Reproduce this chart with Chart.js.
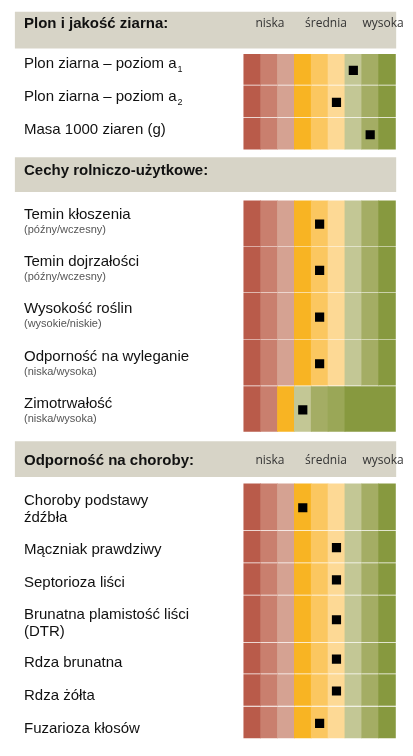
<!DOCTYPE html>
<html><head><meta charset="utf-8">
<script src="https://cdn.jsdelivr.net/npm/chart.js@4"></script>
<style>html,body{margin:0;padding:0;background:#fff}canvas{display:block}</style>
</head><body><canvas id="c" width="413" height="756"></canvas>
<script>
// ---- data ----
const levelLabels = ['niska','średnia','wysoka'];
const sectionTitles = ['Plon i jakość ziarna:','Cechy rolniczo-użytkowe:','Odporność na choroby:'];
const rowLabels = ['Plon ziarna – poziom a','Plon ziarna – poziom a','Masa 1000 ziaren (g)',
  'Temin kłoszenia','Temin dojrzałości','Wysokość roślin','Odporność na wyleganie','Zimotrwałość',
  'Choroby podstawy','Mączniak prawdziwy','Septorioza liści','Brunatna plamistość liści','Rdza brunatna','Rdza żółta','Fuzarioza kłosów'];
const rowSubscripts = ['1','2','','','','','','','','','','','','',''];
const rowSecondLines = ['','','','(późny/wczesny)','(późny/wczesny)','(wysokie/niskie)','(niska/wysoka)','(niska/wysoka)',
  'źdźbła','','','(DTR)','','',''];
const rowScores = [6,5,7, 4,4,4,4,3, 3,5,5,5,5,5,4]; // column index 0..8
const scaleColors = ['#b95b4a','#c97f6e','#d5a292','#f8b423','#fbc760','#fdd995','#c3c795','#a4ad64','#87993f'];
const zimoColors = ['#b95b4a','#c97f6e','#f8b423','#c3c795','#a4ad64','#9aa757','#87993f'];
const zimoWidths = [1,1,1,1,1,1,3];

// ---- layout ----
const PX = 17.4, X0 = 245;
const toU = p => (p - X0) / PX;
const headers = [[6,42],[154,188],[443,478]];
const rowBounds = [[48,80],[80,113],[113,146],
  [197,244],[244,291],[291,339],[339,386],[386,433],
  [485,533],[533,566],[566,599],[599,647],[647,679],[679,712],[712,745]];

const datasets = [];
headers.forEach(h => datasets.push({type:'bar', order:2, data:[{x:[toU(9),toU(402)], y:(h[0]+h[1])/2}],
  backgroundColor:'#d7d4c7', barThickness:h[1]-h[0], grouped:false}));
rowBounds.forEach((b,i) => {
  const zimo = i === 7;
  const widths = zimo ? zimoWidths : scaleColors.map(()=>1);
  const cols = zimo ? zimoColors : scaleColors;
  let s = 0; const data = [];
  widths.forEach(w => { data.push({x:[s, s+w], y:(b[0]+b[1])/2}); s += w; });
  datasets.push({type:'bar', order:2, data, backgroundColor:cols, barThickness:b[1]-b[0]-2, grouped:false});
});
datasets.push({type:'scatter', order:0, data: rowScores.map((v,i)=>({x:v+0.5, y:(rowBounds[i][0]+rowBounds[i][1])/2+1})),
  pointStyle:'rect', radius:6.5, backgroundColor:'#000', borderWidth:0});

const textPlugin = {id:'txt', afterDatasetsDraw(chart){
  const c = chart.ctx; c.save(); c.textBaseline='middle';
  headers.forEach((h,i)=>{
    const y=(h[0]+h[1])/2;
    c.fillStyle='#111'; c.font='bold 15px "Liberation Sans", Arial'; c.textAlign='left';
    c.fillText(sectionTitles[i], 24, y);
    if(i!==1){ c.font='12px "Open Sans"'; c.fillStyle='#333'; c.textAlign='center';
      [270,326,383].forEach((x,k)=>c.fillText(levelLabels[k], x, y)); }
  });
  rowBounds.forEach((b,i)=>{
    const two = rowSecondLines[i] !== '';
    const y1 = two ? (i===8||i===11 ? (b[0]+b[1])/2-8 : (b[0]+b[1])/2-6) : (b[0]+b[1])/2;
    c.textAlign='left'; c.fillStyle='#111'; c.font='15px "Liberation Sans", Arial';
    c.fillText(rowLabels[i], 24, y1);
    if(rowSubscripts[i]){ const w=c.measureText(rowLabels[i]).width; c.font='9px "Liberation Sans", Arial'; c.fillText(rowSubscripts[i], 24+w+1, y1+6); }
    if(two){
      if(i===8||i===11){ c.font='15px "Liberation Sans", Arial'; c.fillText(rowSecondLines[i], 24, y1+17); }
      else { c.font='11px "Liberation Sans", Arial'; c.fillStyle='#555'; c.fillText(rowSecondLines[i], 24, y1+15); }
    }
  });
  c.restore();
}};

new Chart(document.getElementById('c'), {
  data:{datasets},
  options:{indexAxis:'y', responsive:false, animation:false,
    layout:{padding:0},
    plugins:{legend:{display:false}, tooltip:{enabled:false}},
    scales:{x:{type:'linear', min:toU(0), max:toU(413), display:false, offset:false, grid:{offset:false}},
            y:{type:'linear', min:0, max:756, reverse:true, display:false, offset:false, grid:{offset:false}}}},
  plugins:[textPlugin]
});
</script></body></html>
